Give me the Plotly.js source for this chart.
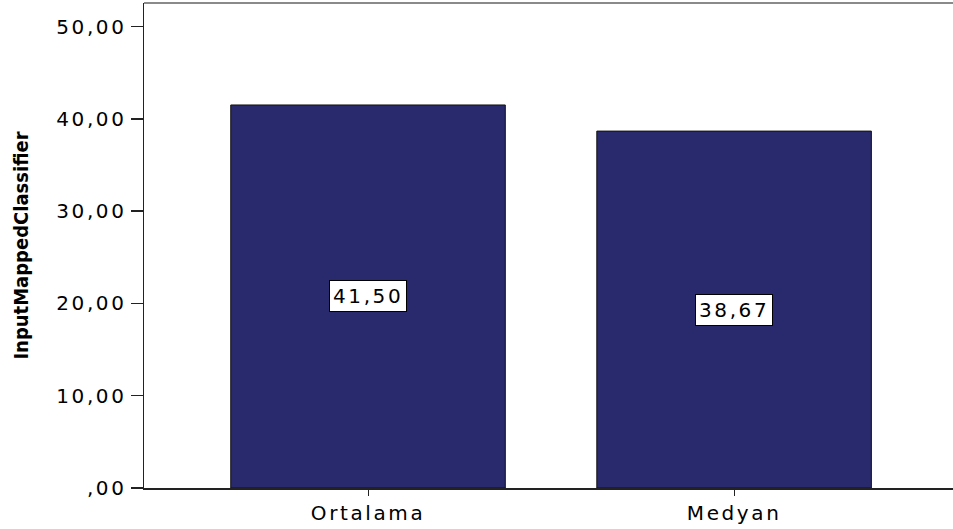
<!DOCTYPE html>
<html>
<head>
<meta charset="utf-8">
<script src="https://cdn.plot.ly/plotly-3.0.1.min.js"></script>
<style>
  html, body { margin: 0; padding: 0; background: #fff; }
  #chart { width: 953px; height: 529px; }
  .xtick text, .ytick text, .annotation-text { letter-spacing: 2.6px; }
</style>
</head>
<body>
<div id="chart"></div>
<script>
const categories = ['Ortalama', 'Medyan'];
const values = [41.50, 38.67];
const yTickVals = [0, 10, 20, 30, 40, 50];
const yTickText = [',00', '10,00', '20,00', '30,00', '40,00', '50,00'];
const yTitle = 'InputMappedClassifier';

const fmt = v => v.toFixed(2).replace('.', ',');
const tickFont = { family: 'DejaVu Sans, Liberation Sans, Arial, sans-serif', size: 20, color: '#000' };

const trace = {
  type: 'bar',
  x: categories,
  y: values,
  width: 0.75,
  marker: { color: '#29296e', line: { color: '#111111', width: 1 } },
  hoverinfo: 'none'
};

const annotations = categories.map((c, i) => ({
  x: c,
  y: values[i] / 2,
  xref: 'x',
  yref: 'y',
  text: fmt(values[i]),
  showarrow: false,
  bgcolor: '#ffffff',
  bordercolor: '#000000',
  borderwidth: 1,
  borderpad: 3,
  font: tickFont
}));

const layout = {
  width: 953,
  height: 529,
  margin: { l: 144, r: 0, t: 3, b: 41, pad: 0 },
  paper_bgcolor: '#ffffff',
  plot_bgcolor: '#ffffff',
  showlegend: false,
  xaxis: {
    type: 'category',
    range: [-0.612, 1.598],
    showgrid: false,
    zeroline: false,
    showline: true,
    linecolor: '#222222',
    linewidth: 1.5,
    ticks: 'outside',
    ticklen: 6,
    tickwidth: 1,
    tickcolor: '#222222',
    tickfont: tickFont,
    automargin: false,
    fixedrange: true
  },
  yaxis: {
    range: [0, 52.55],
    tickvals: yTickVals,
    ticktext: yTickText,
    showgrid: false,
    zeroline: false,
    showline: true,
    linecolor: '#222222',
    linewidth: 1.5,
    ticks: 'outside',
    ticklen: 12,
    tickwidth: 1.5,
    tickcolor: '#222222',
    tickfont: tickFont,
    title: {
      text: yTitle,
      standoff: 22,
      font: { family: 'DejaVu Sans Condensed, Liberation Sans Narrow, Arial Narrow, sans-serif', size: 20, color: '#000', weight: 'bold' }
    },
    automargin: false,
    fixedrange: true
  },
  shapes: [{
    type: 'line', xref: 'paper', yref: 'paper',
    x0: 0, x1: 1, y0: 1, y1: 1,
    line: { color: '#8a8a8a', width: 2 }
  }],
  annotations: annotations
};

Plotly.newPlot('chart', [trace], layout, { displayModeBar: false, staticPlot: true });
</script>
</body>
</html>
